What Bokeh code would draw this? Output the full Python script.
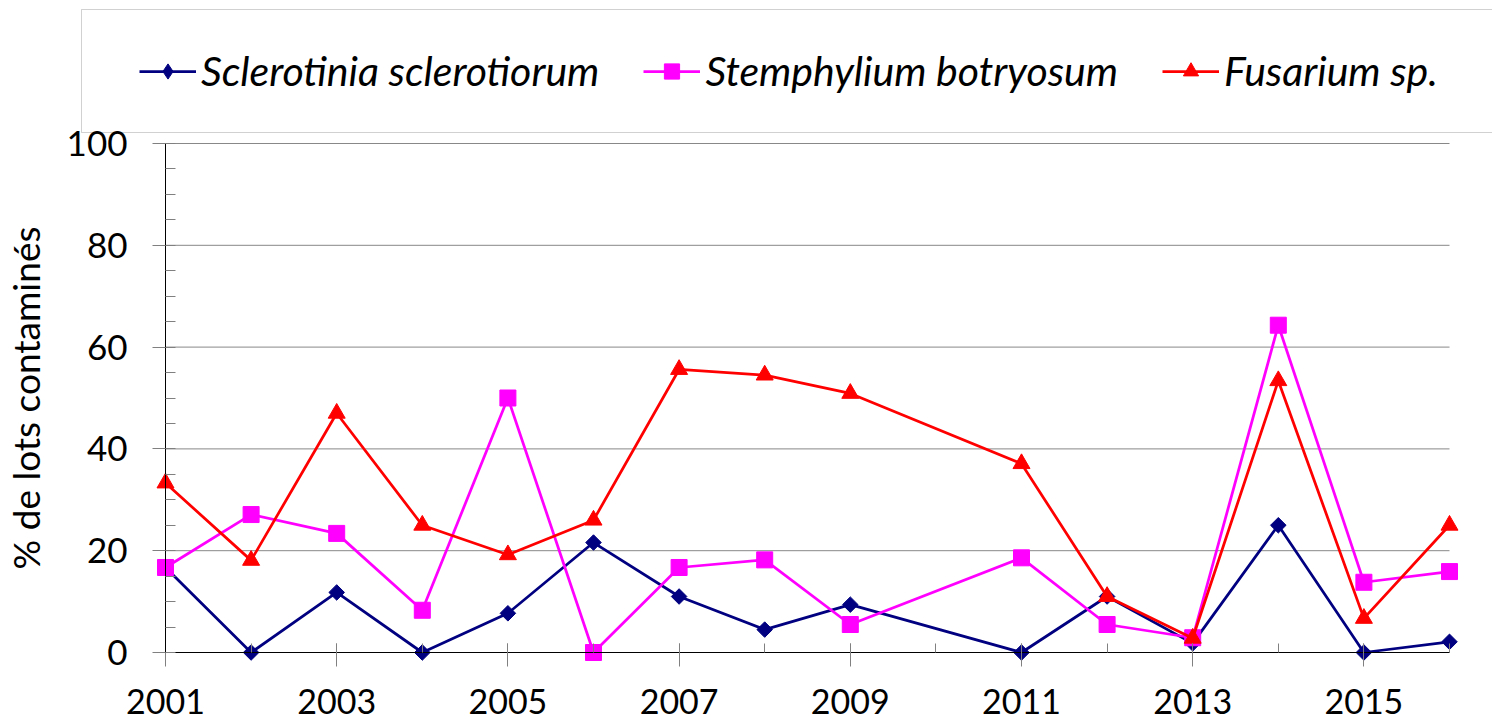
import numpy as np
from bokeh.plotting import figure
from bokeh.models import (Legend, LegendItem, FixedTicker, ColumnDataSource,
                          BoxAnnotation, LinearAxis)
from bokeh.embed import file_html
from bokeh.resources import INLINE

years = [2001, 2002, 2003, 2004, 2005, 2006, 2007, 2008, 2009, 2011, 2012, 2013, 2014, 2015, 2016]
sclerotinia = [16.7, 0, 11.8, 0, 7.7, 21.6, 11.0, 4.5, 9.4, 0, 11.0, 1.8, 25.0, 0, 2.1]
stemphylium = [16.7, 27.1, 23.4, 8.3, 50.0, 0, 16.7, 18.2, 5.5, 18.6, 5.5, 2.9, 64.3, 13.8, 15.9]
fusarium = [33.3, 18.1, 47.0, 25.0, 19.2, 26.0, 55.6, 54.5, 50.9, 37.1, 11.0, 2.8, 53.4, 6.7, 25.0]
names = ["Sclerotinia sclerotiorum", "Stemphylium botryosum", "Fusarium sp."]
y_ticks = [0, 20, 40, 60, 80, 100]
y_minor = list(range(0, 101, 5))
x_major = [2001, 2003, 2005, 2007, 2009, 2011, 2013, 2015]
x_minor = list(range(2001, 2017))

FONT = "Lato"
W, H = 1492, 722
# layout: axis corner at pixel (165, 652), x=2016 at 1449, y=100 at 143
X0, X1 = min(x_minor), max(x_minor)
Y0, Y1 = min(y_ticks), max(y_ticks)
PX_PER_YEAR = (1449 - 165) / (X1 - X0)
PX_PER_UNIT = (652 - 143) / (Y1 - Y0)
x_lo = X0 - 165 / PX_PER_YEAR
x_hi = X1 + (W - 1449) / PX_PER_YEAR
y_lo = Y0 - (H - 652) / PX_PER_UNIT
y_hi = Y1 + 143 / PX_PER_UNIT

p = figure(width=W, height=H, x_range=(x_lo, x_hi), y_range=(y_lo, y_hi),
           x_axis_location=None, y_axis_location=None,
           output_backend="svg", toolbar_location=None,
           min_border_left=0, min_border_right=0, min_border_top=0, min_border_bottom=0)
p.outline_line_color = None
p.grid.visible = False

# horizontal grid lines from the y tick values, spanning the year axis
n = len(y_ticks)
p.segment(x0=[X0] * n, y0=y_ticks, x1=[X1] * n, y1=y_ticks,
          line_color="#888888", line_width=1)

# y axis anchored at the first year
yax = LinearAxis(fixed_location=X0, bounds=(Y0, Y1),
                 ticker=FixedTicker(ticks=y_ticks, minor_ticks=y_minor))
yax.axis_line_color = "black"
yax.major_tick_line_color = "#808080"
yax.minor_tick_line_color = "#808080"
yax.major_tick_out = 13
yax.major_tick_in = 0
yax.minor_tick_in = 10
yax.minor_tick_out = 0
yax.major_label_text_font = FONT
yax.major_label_text_font_size = "35px"
yax.major_label_text_color = "black"
yax.major_label_standoff = 25
yax.axis_label = "% de lots contaminés"
yax.axis_label_text_font = FONT
yax.axis_label_text_font_size = "37px"
yax.axis_label_text_font_style = "normal"
yax.axis_label_text_color = "black"
yax.axis_label_standoff = 16
p.add_layout(yax, "left")

# x axis anchored at y = 0
xax = LinearAxis(fixed_location=Y0, bounds=(X0, X1),
                 ticker=FixedTicker(ticks=x_major, minor_ticks=x_minor))
xax.axis_line_color = "black"
xax.major_tick_line_color = "#808080"
xax.minor_tick_line_color = "#808080"
xax.major_tick_in = 9
xax.major_tick_out = 14
xax.minor_tick_in = 9
xax.minor_tick_out = 0
xax.major_label_text_font = FONT
xax.major_label_text_font_size = "34px"
xax.major_label_text_color = "black"
xax.major_label_standoff = 22
p.add_layout(xax, "below")

colors = ["#000080", "#FF00FF", "#FF0000"]
series = [sclerotinia, stemphylium, fusarium]
markers = ["square", "square", "triangle"]
angles = [np.pi / 4, 0, 0]
sizes = [11, 16, 17]
legend_markers = ["diamond", "square", "triangle"]

items = []
for name, vals, c, m, a, s, lm in zip(names, series, colors, markers, angles, sizes, legend_markers):
    src = ColumnDataSource(dict(x=years, y=vals))
    lr = p.line("x", "y", source=src, line_color=c, line_width=2.75)
    p.scatter("x", "y", source=src, marker=m, angle=a, size=s,
              fill_color=c, line_color=c, line_width=1)
    # zero-size twin: only its legend swatch is visible
    sw = p.scatter("x", "y", source=src, marker=lm, size=0,
                   fill_color=c, line_color=c, line_width=1)
    items.append(LegendItem(label=name, renderers=[lr, sw]))

box = BoxAnnotation(left=81, right=W + 50, top=9, bottom=132,
                    left_units="canvas", right_units="canvas",
                    top_units="canvas", bottom_units="canvas",
                    fill_color="white", fill_alpha=1.0,
                    line_color="#666666", line_width=1, level="underlay")
p.add_layout(box)

legend = Legend(items=items, orientation="horizontal", location=(139, 627),
                glyph_width=57, glyph_height=38, label_standoff=5, spacing=44,
                padding=0, margin=0, label_height=46,
                border_line_color=None, background_fill_alpha=0,
                label_text_font=FONT, label_text_font_style="italic",
                label_text_font_size="41px", label_text_color="black")
p.add_layout(legend, "center")

open("out.html", "w").write(file_html(p, INLINE))
